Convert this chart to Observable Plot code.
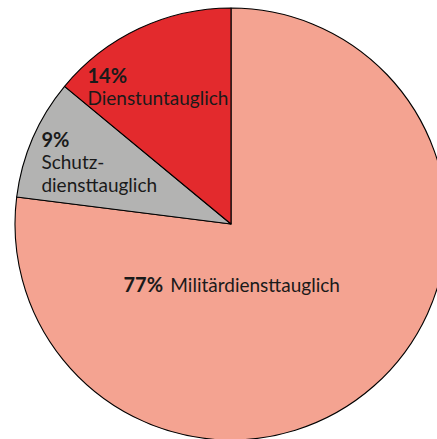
<!DOCTYPE html>
<html>
<head>
<meta charset="utf-8">
<script src="https://cdn.jsdelivr.net/npm/d3@7"></script>
<script src="https://cdn.jsdelivr.net/npm/@observablehq/plot@0.6"></script>
<style>
  html, body { margin: 0; padding: 0; background: #fff; }
  #chart svg { display: block; }
</style>
</head>
<body>
<div id="chart"></div>
<script>
// Data
const categories = ["Militärdiensttauglich", "Schutzdiensttauglich", "Dienstuntauglich"];
const shares = [77, 9, 14];
const percentLabels = ["77%", "9%", "14%"];
const nameLabels = ["Militärdiensttauglich", "Schutz-\ndiensttauglich", "Dienstuntauglich"];
const colors = ["#F4A391", "#B3B3B2", "#E32A2D"];

// Layout (in units of the pie radius, centre = 0,0)
const W = 437, H = 439;
const cx = 231, cy = 224, R = 216;
const pctPos = [[-0.500, -0.313], [-0.880, 0.358], [-0.667, 0.657]];
const namePos = [[-0.283, -0.313], [-0.880, 0.150], [-0.667, 0.553]];

const slices = categories.map((c, i) => ({category: c, share: shares[i], color: colors[i]}));
const pctData = categories.map((c, i) => ({text: percentLabels[i], x: pctPos[i][0], y: pctPos[i][1]}));
const nameData = categories.map((c, i) => ({text: nameLabels[i], x: namePos[i][0], y: namePos[i][1]}));

function pieMark(index, scales) {
  const x0 = scales.x(0), y0 = scales.y(0);
  const r = scales.x(1) - scales.x(0);
  const arcs = d3.pie().sort(null).value(d => d.share)(slices);
  const arc = d3.arc().innerRadius(0).outerRadius(r);
  const g = d3.create("svg:g").attr("transform", `translate(${x0},${y0})`);
  g.selectAll("path").data(arcs).join("path")
    .attr("d", arc)
    .attr("fill", d => d.data.color)
    .attr("stroke", "#000")
    .attr("stroke-width", 1.1)
    .attr("stroke-linejoin", "round");
  return g.node();
}

const font = "Lato, 'Open Sans', sans-serif";
const chart = Plot.plot({
  width: W,
  height: H,
  margin: 0,
  style: {fontFamily: font, background: "#fff", overflow: "hidden"},
  x: {domain: [-cx / R, (W - cx) / R], axis: null},
  y: {domain: [-(H - cy) / R, cy / R], axis: null},
  marks: [
    pieMark,
    Plot.text(pctData, {x: "x", y: "y", text: "text", textAnchor: "start", lineAnchor: "bottom",
      fontSize: 20, fontWeight: "bold", fill: "#1a1a1a"}),
    Plot.text(nameData, {x: "x", y: "y", text: "text", textAnchor: "start", lineAnchor: "bottom",
      fontSize: 19, lineHeight: 1.19, fill: "#1a1a1a"})
  ]
});
document.getElementById("chart").appendChild(chart);
</script>
</body>
</html>
